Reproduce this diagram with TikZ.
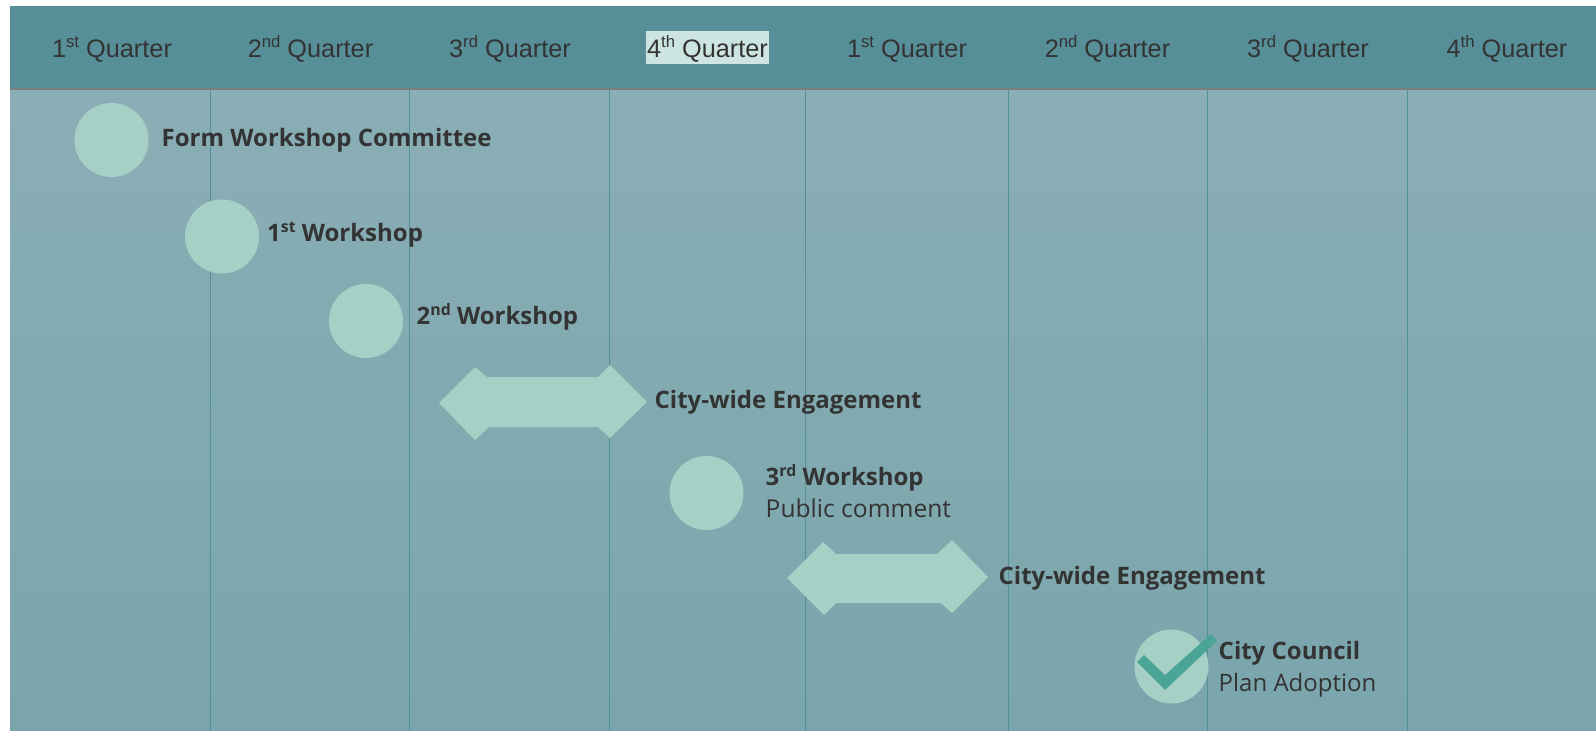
\documentclass[tikz,border=0pt]{standalone}
\usepackage{fontspec}
\setmainfont{Open Sans}
\newfontfamily\grotesk{Liberation Sans}
\newcommand{\ordn}[1]{\raisebox{0.37em}{\scalebox{0.66}{#1}}}
\definecolor{headbg}{RGB}{87,143,153}
\definecolor{bodytop}{RGB}{138,174,181}
\definecolor{bodybot}{RGB}{122,165,172}
\definecolor{mint}{RGB}{166,208,198}
\definecolor{inktext}{RGB}{51,51,51}
\definecolor{gridc}{RGB}{82,145,150}
\definecolor{checkc}{RGB}{75,165,150}
\definecolor{hilite}{RGB}{205,229,224}
\definecolor{ruleg}{RGB}{120,125,128}
\tikzset{
  x=1pt,y=-1pt,
  marker/.style={circle,fill=mint,draw=none,inner sep=0pt,minimum size=74pt},
  quarter/.style={text=inktext,inner sep=0pt,anchor=base,font=\grotesk\fontsize{25.3}{28}\selectfont},
  task/.style={text=inktext,inner sep=0pt,anchor=base west,font=\fontsize{24}{28}\selectfont\bfseries},
  tasktwo/.style={text=inktext,inner sep=0pt,anchor=north west,align=left,font=\fontsize{24}{32}\selectfont},
  gridline/.style={draw=gridc,line width=1pt},
  dblarrow/.style={fill=mint,draw=none},
}
\begin{document}
\begin{tikzpicture}
\useasboundingbox (0,0) rectangle (1596,731);
\fill[white] (0,0) rectangle (1596,731);
% body and header
\shade[top color=bodytop,bottom color=bodybot] (10,88) rectangle (1596,731);
\fill[headbg] (10,5.5) rectangle (1596,88);
\draw[ruleg,line width=2pt] (10,89) -- (1596,89);
% grid
\foreach \gx in {210.5,409.5,609.5,805,1008.5,1207.5,1407}
  \draw[gridline] (\gx,90) -- (\gx,731);
% highlight
\fill[hilite] (646,31) rectangle (769,64);
% quarter labels
\node[quarter] (q1) at (112,57) {1\ordn{st} Quarter};
\node[quarter] (q2) at (310.5,57) {2\ordn{nd} Quarter};
\node[quarter] (q3) at (510,57) {3\ordn{rd} Quarter};
\node[quarter] (q4) at (707.5,57) {4\ordn{th} Quarter};
\node[quarter] (q5) at (907,57) {1\ordn{st} Quarter};
\node[quarter] (q6) at (1107.5,57) {2\ordn{nd} Quarter};
\node[quarter] (q7) at (1308,57) {3\ordn{rd} Quarter};
\node[quarter] (q8) at (1507,57) {4\ordn{th} Quarter};
% markers
\node[marker] (m1) at (111.5,140) {};
\node[marker] (m2) at (222,236.5) {};
\node[marker] (m3) at (366,321) {};
\node[marker] (m4) at (706.5,493) {};
\node[marker] (m5) at (1171.5,666.5) {};
% arrows
\fill[dblarrow] (439,403) -- (475,367) -- (487,377) -- (598,377) -- (610,365) -- (647,402) -- (610,438) -- (598,427) -- (489,427) -- (475,440) -- cycle;
\fill[dblarrow] (787,578) -- (823,542) -- (836,554) -- (937,554) -- (952,540) -- (988,577) -- (952,613) -- (941,603) -- (836,603) -- (824,615) -- cycle;
% check
\fill[checkc] (1137,662) -- (1144,655) -- (1165,675) -- (1211,634) -- (1217,641) -- (1165,690) -- cycle;
% labels
\node[task] (t1) at (161.5,146) {Form Workshop Committee};
\node[task] (t2) at (267,241) {1\ordn{st} Workshop};
\node[task] (t3) at (416.5,324) {2\ordn{nd} Workshop};
\node[task] (t4) at (654.5,408) {City-wide Engagement};
\node[tasktwo] (t5) at (765.5,464.5) {\textbf{3\ordn{rd} Workshop}\\\fontsize{24.6}{32}\selectfont Public comment};
\node[task] (t6) at (998.5,584) {City-wide Engagement};
\node[tasktwo] (t7) at (1218.5,641) {\textbf{City Council}\\Plan Adoption};
\end{tikzpicture}
\end{document}
